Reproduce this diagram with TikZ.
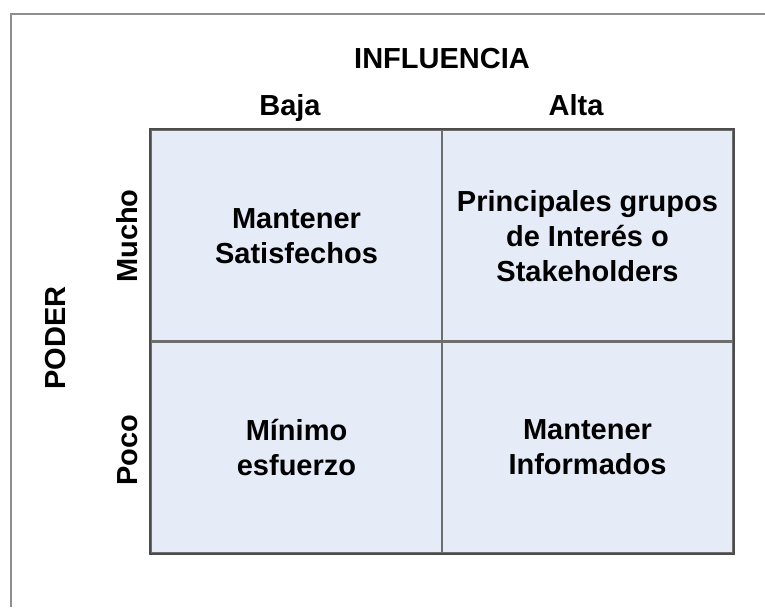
\documentclass[tikz,border=0pt]{standalone}
\usepackage{fontspec}
\setmainfont{Liberation Sans}
\usetikzlibrary{positioning}
\tikzset{font=\fontsize{14.5}{17.5}\selectfont\bfseries}
\definecolor{cellfill}{HTML}{E6ECF7}
\definecolor{gridline}{HTML}{6E6E6E}
\definecolor{bordergray}{HTML}{4C4C4C}
\definecolor{framegray}{HTML}{8E8E8E}

\begin{document}
\begin{tikzpicture}[x=0.5pt, y=-0.5pt]
	\useasboundingbox (0,0) rectangle (765,607);
	\coordinate (f1) at (11,607);
	\coordinate (f2) at (11,14);
	\coordinate (f3) at (765,14);
	\draw[framegray, line width=1.2pt] (f1) -- (f2) -- (f3);
	\begin{scope}
		\tikzstyle{every node}=[align=center, inner sep=0pt]
		\tikzstyle{cell}=[draw=gridline, line width=1.1pt, fill=cellfill, minimum width=145.5pt, minimum height=105.75pt]
		\node[cell] (c11) at (296.5,235.75) {Mantener\\Satisfechos};
		\node[cell] (c12) at (587.5,235.75) {Principales grupos\\de Interés o\\Stakeholders};
		\node[cell] (c21) at (296.5,447.25) {Mínimo\\esfuerzo};
		\node[cell] (c22) at (587.5,447.25) {Mantener\\Informados};
		\draw[bordergray, line width=1pt] (c11.north west) rectangle (c22.south east);

		\node[anchor=base] (infl) at (442,68) {INFLUENCIA};
		\node[anchor=base] (baja) at (290,115) {Baja};
		\node[anchor=base] (alta) at (576,115) {Alta};
		\node[anchor=base, rotate=90] (poder) at (65,338) {PODER};
		\node[anchor=base, rotate=90] (mucho) at (137,236) {Mucho};
		\node[anchor=base, rotate=90] (poco) at (137,450) {Poco};
	\end{scope}
\end{tikzpicture}
\end{document}
